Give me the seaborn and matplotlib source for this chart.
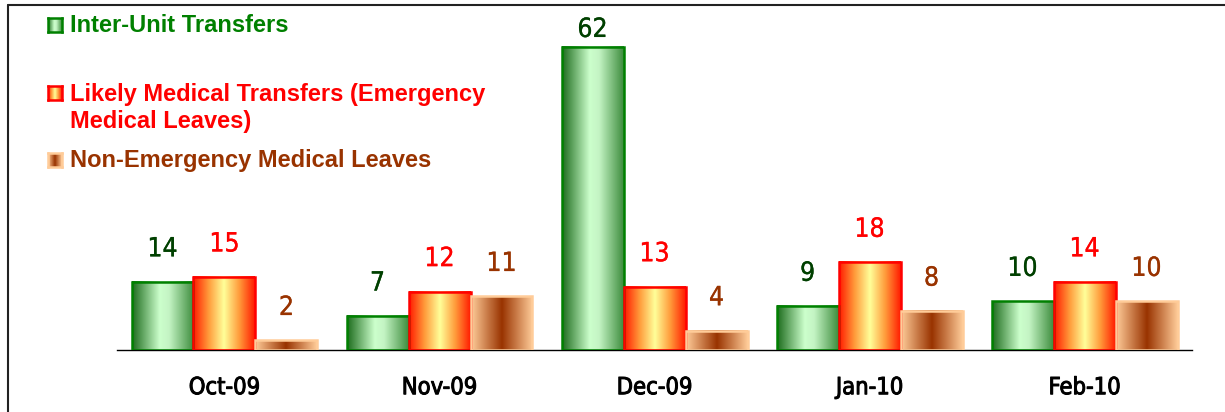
import numpy as np
import pandas as pd
import matplotlib
matplotlib.use("Agg")
import matplotlib.pyplot as plt
import matplotlib.patheffects as pe
from matplotlib.colors import LinearSegmentedColormap
from matplotlib.lines import Line2D
import seaborn as sns

# chart data
months = ["Oct-09", "Nov-09", "Dec-09", "Jan-10", "Feb-10"]
inter_unit = [14, 7, 62, 9, 10]
likely_medical = [15, 12, 13, 18, 14]
non_emergency = [2, 11, 4, 8, 10]

series_names = [
    "Inter-Unit Transfers",
    "Likely Medical Transfers (Emergency\nMedical Leaves)",
    "Non-Emergency Medical Leaves",
]

# styling per series: gradient stops, bar outline, label colour
gradients = [
    [(0.0, "#1c6b1c"), (0.45, "#ccffcc"), (0.6, "#c4f4c4"), (1.0, "#3d8c3d")],
    [(0.0, "#ff1a00"), (0.25, "#ff9a3a"), (0.5, "#ffff99"), (0.75, "#ff9a3a"), (1.0, "#ff1a00")],
    [(0.0, "#ffcc99"), (0.5, "#993300"), (1.0, "#ffcc99")],
]
edge_colors = ["#008000", "#ff0000", "#ffcc99"]
label_colors = ["#004000", "#ff0000", "#993300"]
legend_colors = ["#008000", "#ff0000", "#993300"]

df = pd.DataFrame({
    "month": months * 3,
    "count": inter_unit + likely_medical + non_emergency,
    "series": [s for s in series_names for _ in months],
})

sns.set_theme(style="white")
plt.rcParams["font.family"] = ["DejaVu Sans"]

fig = plt.figure(figsize=(12.25, 4.12), dpi=100)
ax = fig.add_axes([0.0955, 0.150, 0.8776, 0.801])

sns.barplot(data=df, x="month", y="count", hue="series", order=months,
            hue_order=series_names, width=0.865, ax=ax, legend=False,
            palette=["#88cc88", "#ffcc66", "#cc8855"])

cmaps = [LinearSegmentedColormap.from_list(f"g{i}", g) for i, g in enumerate(gradients)]
grad = np.linspace(0, 1, 256).reshape(1, -1)

n = len(months)
for i, patch in enumerate(ax.patches[:3 * n]):
    s = i // n
    x0 = patch.get_x()
    w = patch.get_width()
    h = patch.get_height()
    ax.imshow(grad, cmap=cmaps[s], aspect="auto", extent=[x0, x0 + w, 0, h],
              zorder=2, interpolation="bilinear")
    patch.set_facecolor("none")
    patch.set_edgecolor(edge_colors[s])
    patch.set_linewidth(1.8)
    patch.set_zorder(3)
    # tall bar label gets squeezed under the top frame
    off = 3 if h > 55 else 14
    ax.annotate(f"{int(h)}", (x0 + w / 2, h), xytext=(0, off), textcoords="offset points",
                ha="center", va="bottom", fontsize=19, color=label_colors[s],
                fontstretch="condensed",
                path_effects=[pe.withStroke(linewidth=0.2, foreground=label_colors[s])])

ax.set_xlim(-0.5, 4.5)
ax.set_ylim(0, 67.5)
ax.set_xlabel("")
ax.set_ylabel("")
ax.set_yticks([])
ax.tick_params(axis="x", length=0, pad=18)
for lbl in ax.get_xticklabels():
    lbl.set_fontsize(17)
    lbl.set_fontstretch("condensed")
    lbl.set_color("black")
    lbl.set_path_effects([pe.withStroke(linewidth=0.7, foreground="black")])
for side in ["top", "right", "left"]:
    ax.spines[side].set_visible(False)
ax.spines["bottom"].set_color("black")
ax.spines["bottom"].set_linewidth(1.0)
ax.set_facecolor("none")

# legend drawn at top left
W, H = 1225, 412
legend_y = [25, 93, 160]
text_y = [25, 108, 160]
for s, name in enumerate(series_names):
    yc = legend_y[s]
    max_ = fig.add_axes([48 / W, 1 - (yc + 7) / H, 14 / W, 14 / H])
    max_.imshow(grad, cmap=cmaps[s], aspect="auto", interpolation="bilinear")
    max_.set_xticks([])
    max_.set_yticks([])
    for sp in max_.spines.values():
        sp.set_color(edge_colors[s])
        sp.set_linewidth(1.8)
    fig.text(70 / W, 1 - text_y[s] / H, name, ha="left", va="center",
             fontsize=17, fontweight="bold", color=legend_colors[s],
             family=["Liberation Sans", "DejaVu Sans"], linespacing=1.25)

# frame lines at top and left
fig.add_artist(Line2D([8 / W, 1], [1 - 4.5 / H, 1 - 4.5 / H], transform=fig.transFigure,
                      color="#222222", linewidth=1.5))
fig.add_artist(Line2D([8 / W, 8 / W], [0, 1 - 4.5 / H], transform=fig.transFigure,
                      color="#222222", linewidth=1.5))

fig.savefig("out.png", dpi=100)
